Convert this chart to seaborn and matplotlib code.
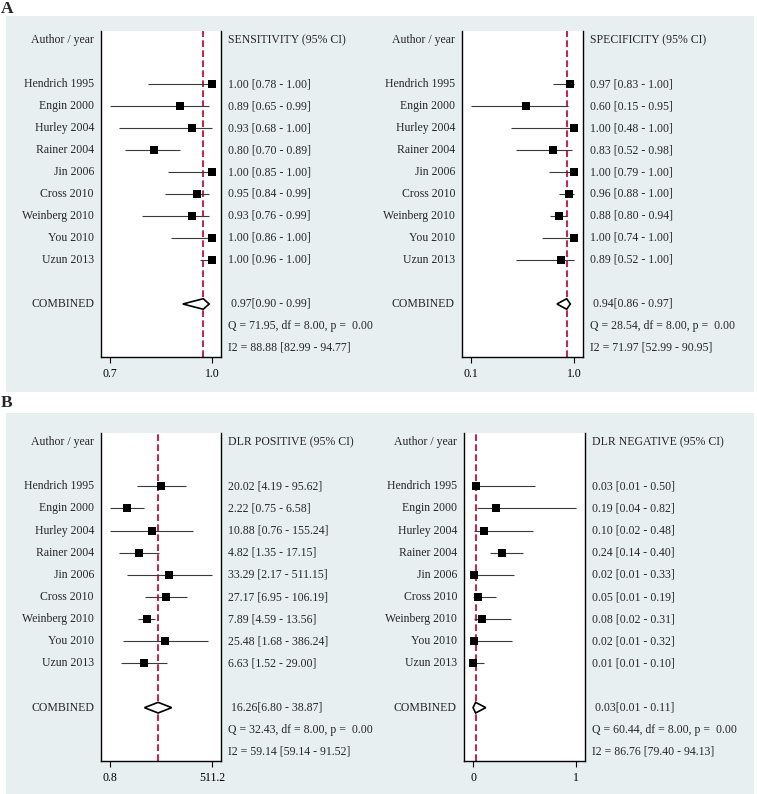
import numpy as np
import pandas as pd
import matplotlib
matplotlib.use("Agg")
import matplotlib.pyplot as plt
import matplotlib.transforms as mtransforms
from matplotlib.patches import Rectangle, Polygon
import seaborn as sns

sns.set_style("white")
plt.rcParams['font.family'] = ['Liberation Serif', 'DejaVu Serif']

authors = ["Hendrich 1995", "Engin 2000", "Hurley 2004", "Rainer 2004", "Jin 2006",
           "Cross 2010", "Weinberg 2010", "You 2010", "Uzun 2013"]

sens_est = [1.00, 0.89, 0.93, 0.80, 1.00, 0.95, 0.93, 1.00, 1.00]
sens_lo = [0.78, 0.65, 0.68, 0.70, 0.85, 0.84, 0.76, 0.86, 0.96]
sens_hi = [1.00, 0.99, 1.00, 0.89, 1.00, 0.99, 0.99, 1.00, 1.00]
sens_comb = [0.97, 0.90, 0.99]
sens_q = "Q = 71.95, df = 8.00, p =  0.00"
sens_i2 = "I2 = 88.88 [82.99 - 94.77]"
sens_ticklabels = ["0.7", "1.0"]

spec_est = [0.97, 0.60, 1.00, 0.83, 1.00, 0.96, 0.88, 1.00, 0.89]
spec_lo = [0.83, 0.15, 0.48, 0.52, 0.79, 0.88, 0.80, 0.74, 0.52]
spec_hi = [1.00, 0.95, 1.00, 0.98, 1.00, 1.00, 0.94, 1.00, 1.00]
spec_comb = [0.94, 0.86, 0.97]
spec_q = "Q = 28.54, df = 8.00, p =  0.00"
spec_i2 = "I2 = 71.97 [52.99 - 90.95]"
spec_ticklabels = ["0.1", "1.0"]

dlrp_est = [20.02, 2.22, 10.88, 4.82, 33.29, 27.17, 7.89, 25.48, 6.63]
dlrp_lo = [4.19, 0.75, 0.76, 1.35, 2.17, 6.95, 4.59, 1.68, 1.52]
dlrp_hi = [95.62, 6.58, 155.24, 17.15, 511.15, 106.19, 13.56, 386.24, 29.00]
dlrp_comb = [16.26, 6.80, 38.87]
dlrp_q = "Q = 32.43, df = 8.00, p =  0.00"
dlrp_i2 = "I2 = 59.14 [59.14 - 91.52]"
dlrp_ticklabels = ["0.8", "511.2"]

dlrn_est = [0.03, 0.19, 0.10, 0.24, 0.02, 0.05, 0.08, 0.02, 0.01]
dlrn_lo = [0.01, 0.04, 0.02, 0.14, 0.01, 0.01, 0.02, 0.01, 0.01]
dlrn_hi = [0.50, 0.82, 0.48, 0.40, 0.33, 0.19, 0.31, 0.32, 0.10]
dlrn_comb = [0.03, 0.01, 0.11]
dlrn_q = "Q = 60.44, df = 8.00, p =  0.00"
dlrn_i2 = "I2 = 86.76 [79.40 - 94.13]"
dlrn_ticklabels = ["0", "1"]

W, H = 757, 794
fig = plt.figure(figsize=(W / 100, H / 100), dpi=100)
fig.patch.set_facecolor("white")

BG = "#e8eff1"
RED = "#bb2c55"
FS = 8.5

def px_rect(x0, y0, x1, y1):
    return [x0 / W, 1 - y1 / H, (x1 - x0) / W, (y1 - y0) / H]

# panel backgrounds
fig.patches.append(Rectangle((6 / W, 1 - 392 / H), (754 - 6) / W, (392 - 16) / H,
                             transform=fig.transFigure, facecolor=BG, edgecolor="none", zorder=-10))
fig.patches.append(Rectangle((6 / W, 0), (754 - 6) / W, (794 - 413) / H,
                             transform=fig.transFigure, facecolor=BG, edgecolor="none", zorder=-10))
fig.text(1 / W, 1 - 1 / H, "A", fontsize=12.5, fontweight="bold", va="top", ha="left")
fig.text(1 / W, 1 - 395 / H, "B", fontsize=12.5, fontweight="bold", va="top", ha="left")


def forest(box, title, est, lo, hi, comb, qtxt, i2txt, ticklabels, log=False):
    x0, y0, x1, y1 = box
    ax = fig.add_axes(px_rect(x0, y0, x1, y1))
    ax.set_zorder(1)
    ax.set_facecolor("white")
    wpx = x1 - x0
    rows = np.arange(2, 2 + len(authors))
    df = pd.DataFrame({"author": authors, "est": est, "lo": lo, "hi": hi, "row": rows})

    tmin, tmax = min(lo), max(hi)
    if log:
        ax.set_xscale("log")
        a, b = np.log10(tmin), np.log10(tmax)
        m = 0.088 * (b - a)
        xlim = (10 ** (a - m), 10 ** (b + m))
    else:
        m = 0.088 * (tmax - tmin)
        xlim = (tmin - m, tmax + m)

    ax.hlines(df["row"], df["lo"], df["hi"], color="#3a3a3a", lw=0.8, zorder=2)
    sns.scatterplot(data=df, x="est", y="row", marker="s", color="black", s=32,
                    edgecolor="black", linewidth=0, ax=ax, zorder=3, legend=False)

    ce, cl, ch = comb
    dh = 0.24
    diamond = Polygon([(cl, 12), (ce, 12 - dh), (ch, 12), (ce, 12 + dh)], closed=True,
                      facecolor="white", edgecolor="black", lw=1.2, zorder=4)
    ax.add_patch(diamond)
    ax.axvline(ce, color=RED, lw=1.5, dashes=(3.2, 1.6), zorder=1)

    ax.set_xlim(*xlim)
    ax.set_ylim(14.41, -0.41)
    ax.set_xticks([tmin, tmax])
    ax.set_xticklabels(ticklabels)
    ax.minorticks_off()
    ax.set_yticks([])
    ax.set_xlabel("")
    ax.set_ylabel("")
    ax.tick_params(axis="x", direction="out", length=4, width=0.8, pad=4,
                   labelsize=FS, bottom=True, colors="black")
    ax.spines["top"].set_visible(False)
    for s in ["left", "right", "bottom"]:
        ax.spines[s].set_visible(True)
        ax.spines[s].set_color("black")
        ax.spines[s].set_linewidth(1.0)

    tr = mtransforms.blended_transform_factory(ax.transAxes, ax.transData)
    lx = -7 / wpx
    rx = 1 + 7 / wpx
    ax.text(lx, 0, "Author / year", transform=tr, ha="right", va="center", fontsize=FS, clip_on=False)
    ax.text(rx, 0, title, transform=tr, ha="left", va="center", fontsize=FS, clip_on=False)
    for r, a, e, l, h in zip(rows, authors, est, lo, hi):
        ax.text(lx, r, a, transform=tr, ha="right", va="center", fontsize=FS, clip_on=False)
        ax.text(rx, r, f"{e:.2f} [{l:.2f} - {h:.2f}]", transform=tr, ha="left",
                va="center", fontsize=FS, clip_on=False)
    ax.text(lx, 12, "COMBINED", transform=tr, ha="right", va="center", fontsize=FS, clip_on=False)
    ax.text(rx, 12, f" {ce:.2f}[{cl:.2f} - {ch:.2f}]", transform=tr, ha="left",
            va="center", fontsize=FS, clip_on=False)
    ax.text(rx, 13, qtxt, transform=tr, ha="left", va="center", fontsize=FS, clip_on=False)
    ax.text(rx, 14, i2txt, transform=tr, ha="left", va="center", fontsize=FS, clip_on=False)
    return ax


forest((101, 31, 221, 357), "SENSITIVITY (95% CI)", sens_est, sens_lo, sens_hi,
       sens_comb, sens_q, sens_i2, sens_ticklabels)
forest((462, 31, 583, 357), "SPECIFICITY (95% CI)", spec_est, spec_lo, spec_hi,
       spec_comb, spec_q, spec_i2, spec_ticklabels)
forest((101, 433, 221, 761), "DLR POSITIVE (95% CI)", dlrp_est, dlrp_lo, dlrp_hi,
       dlrp_comb, dlrp_q, dlrp_i2, dlrp_ticklabels, log=True)
forest((464, 433, 585, 761), "DLR NEGATIVE (95% CI)", dlrn_est, dlrn_lo, dlrn_hi,
       dlrn_comb, dlrn_q, dlrn_i2, dlrn_ticklabels)

fig.savefig("out.png", dpi=100, facecolor="white")
